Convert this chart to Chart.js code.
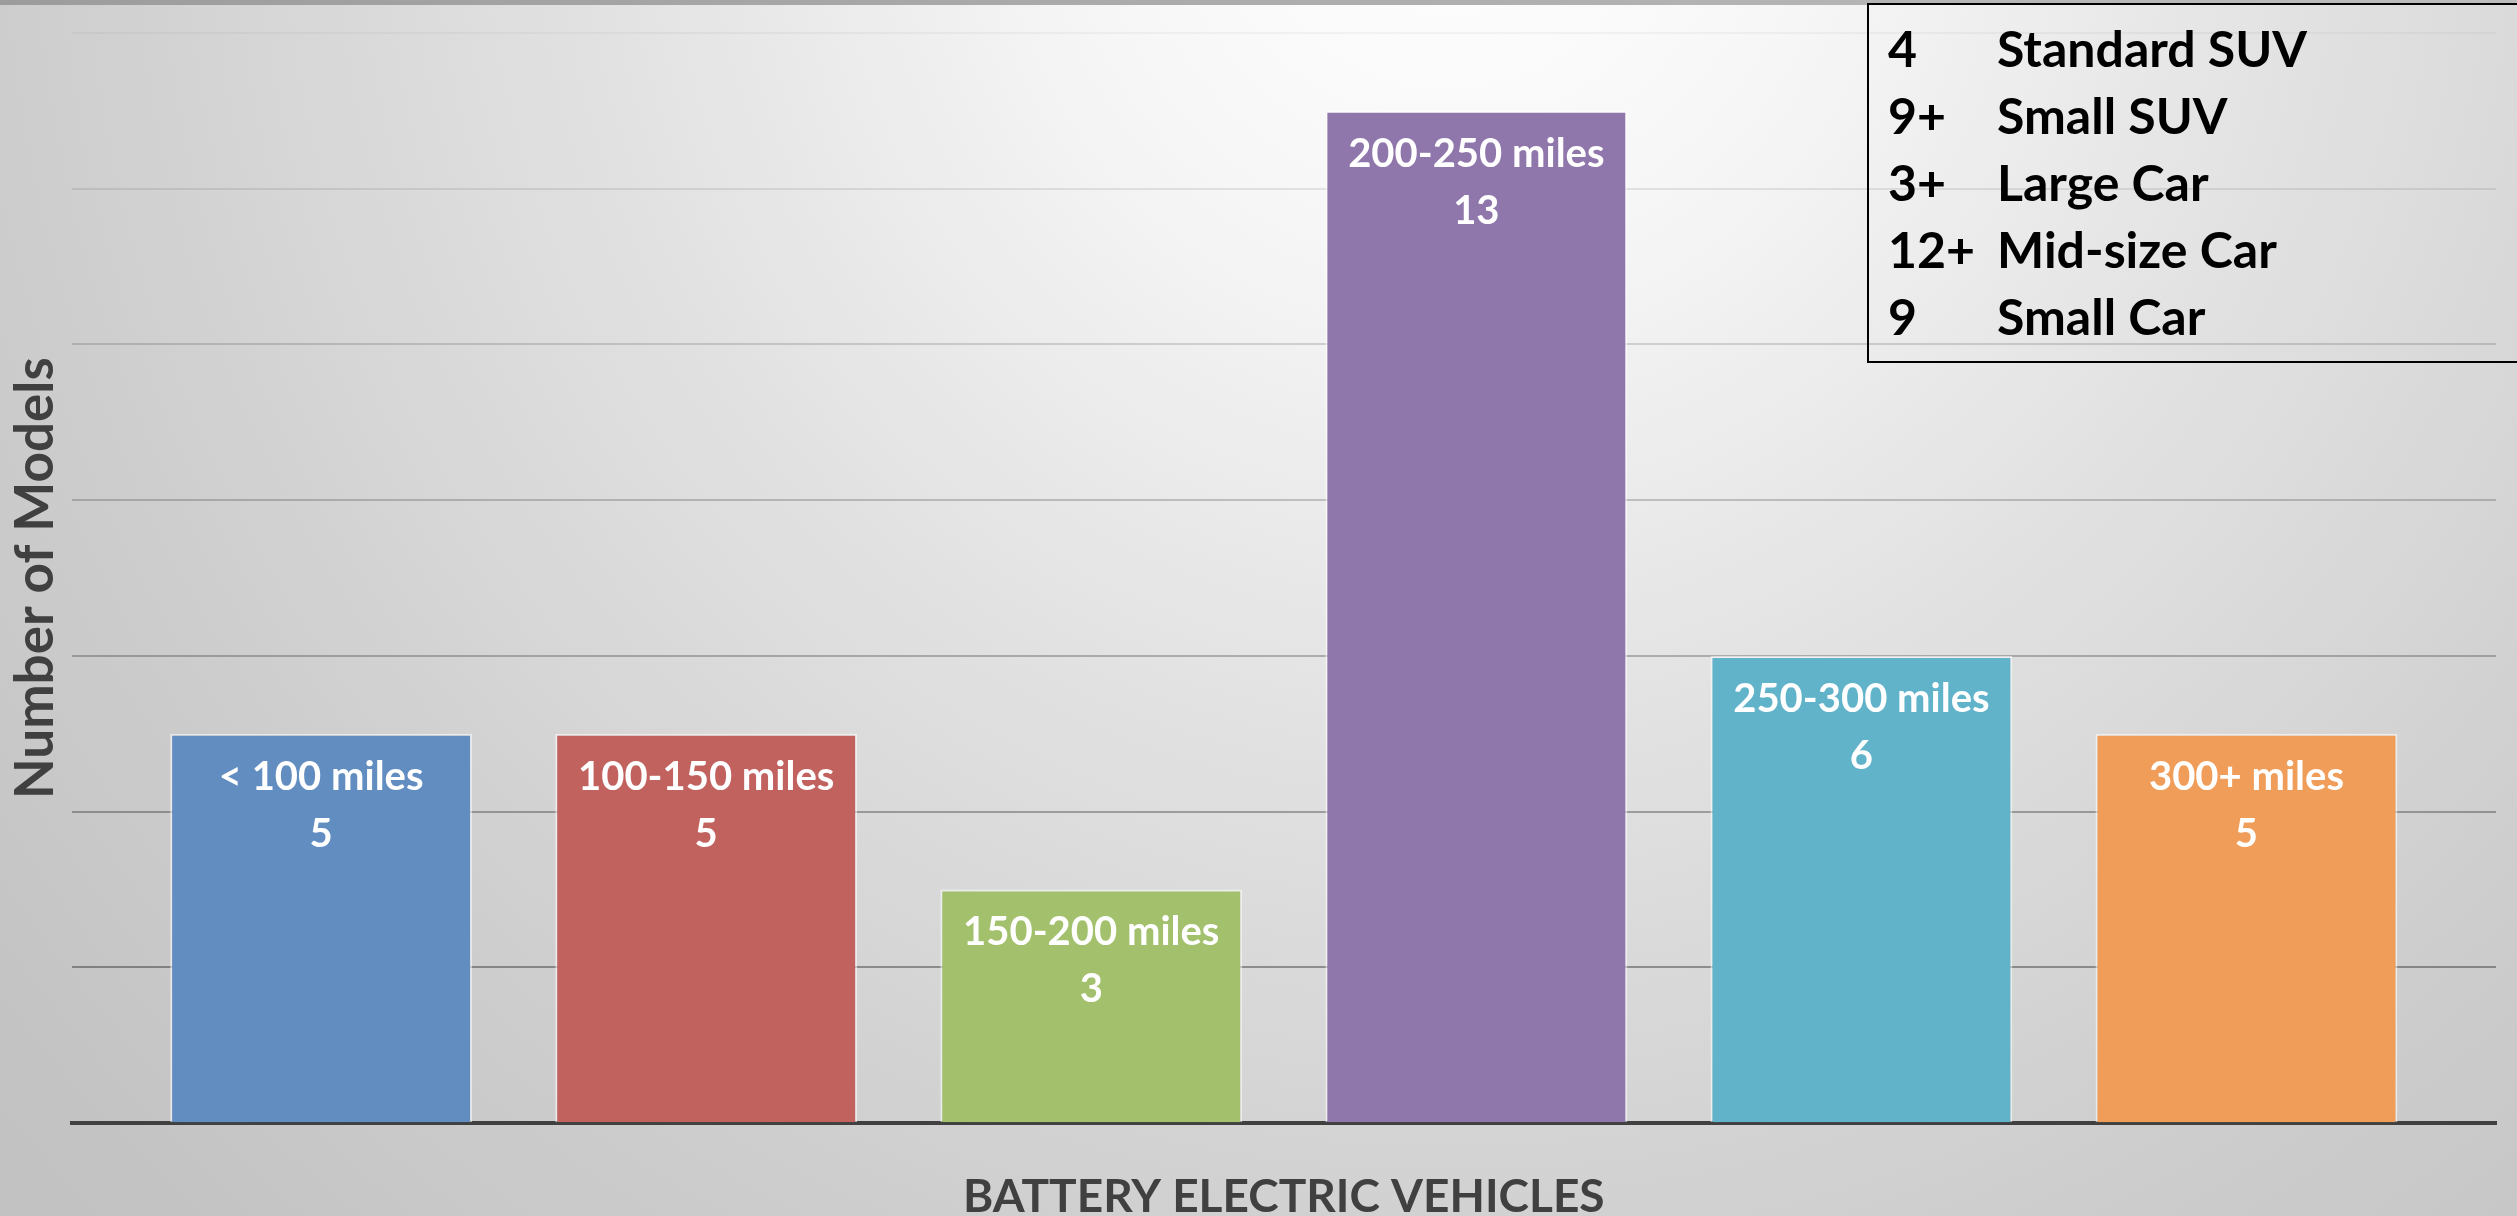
<!DOCTYPE html>
<html>
<head>
<meta charset="utf-8">
<script src="https://cdn.jsdelivr.net/npm/chart.js@4.4.1/dist/chart.umd.min.js"></script>
<style>
  html, body { margin: 0; padding: 0; background: #d8d8d8; }
  canvas { display: block; }
</style>
</head>
<body>
<canvas id="myChart" width="2517" height="1216"></canvas>
<script>
// range buckets and how many BEV models fall in each
var categorias = ['< 100 miles', '100-150 miles', '150-200 miles', '200-250 miles', '250-300 miles', '300+ miles'];
var valores = [5, 5, 3, 13, 6, 5];
var cores = ['#628dc0', '#c1625f', '#a3c16c', '#8f77ab', '#61b3ca', '#f19d5a'];

// text box in the top right corner
var contagens = ['4', '9+', '3+', '12+', '9'];
var tipos = ['Standard SUV', 'Small SUV', 'Large Car', 'Mid-size Car', 'Small Car'];

var fundoPlugin = {
    id: 'fundo',
    beforeDraw: function (chart) {
        var ctx = chart.ctx;
        var w = chart.width, h = chart.height;
        ctx.save();
        var g = ctx.createRadialGradient(1450, -120, 0, 1450, -120, 1900);
        g.addColorStop(0, '#ffffff');
        g.addColorStop(0.2, '#f6f6f6');
        g.addColorStop(0.45, '#e2e2e2');
        g.addColorStop(0.75, '#cecece');
        g.addColorStop(1, '#c2c2c2');
        ctx.fillStyle = g;
        ctx.fillRect(0, 0, w, h);
        // thin gray strip on top
        var t = ctx.createLinearGradient(0, 0, w, 0);
        t.addColorStop(0, '#9c9c9c');
        t.addColorStop(1, '#bdbdbd');
        ctx.fillStyle = t;
        ctx.fillRect(0, 0, w, 5);
        ctx.restore();
    }
};

var rotulosPlugin = {
    id: 'rotulos',
    afterDatasetsDraw: function (chart) {
        var ctx = chart.ctx;
        var meta = chart.getDatasetMeta(0);
        ctx.save();
        ctx.fillStyle = '#ffffff';
        ctx.font = 'bold 40px Lato, "Open Sans", sans-serif';
        ctx.textAlign = 'center';
        ctx.textBaseline = 'middle';
        meta.data.forEach(function (bar, i) {
            ctx.fillText(categorias[i], bar.x, bar.y + 43);
            ctx.fillText(String(valores[i]), bar.x, bar.y + 100);
        });
        ctx.restore();
    }
};

var caixaPlugin = {
    id: 'caixa',
    afterDraw: function (chart) {
        var ctx = chart.ctx;
        ctx.save();
        ctx.strokeStyle = '#000000';
        ctx.lineWidth = 2;
        ctx.strokeRect(1868, 4, 700, 358);
        ctx.fillStyle = '#000000';
        ctx.font = 'bold 50px Lato, "Open Sans", sans-serif';
        ctx.textAlign = 'left';
        ctx.textBaseline = 'alphabetic';
        for (var i = 0; i < tipos.length; i++) {
            var y = 67 + i * 67;
            ctx.fillText(contagens[i], 1888, y);
            ctx.fillText(tipos[i], 1997, y);
        }
        ctx.restore();
    }
};

const ctx = document.getElementById('myChart');

var chart = new Chart(ctx, {
    type: 'bar',
    data: {
        labels: categorias,
        datasets: [{
            label: 'Number of Models',
            data: valores.map(function (v, i) { return { x: i, y: v }; }),
            backgroundColor: cores,
            borderColor: 'rgba(255,255,255,0.55)',
            borderWidth: 2,
            borderSkipped: 'bottom',
            barPercentage: 0.784,
            categoryPercentage: 1
        }]
    },
    options: {
        responsive: false,
        animation: false,
        layout: { padding: { top: 33, right: 21, left: 0, bottom: 0 } },
        plugins: {
            legend: { display: false },
            tooltip: { enabled: false }
        },
        scales: {
            x: {
                type: 'linear',
                offset: false,
                min: -0.648,
                max: 5.648,
                ticks: { display: false, stepSize: 1, includeBounds: false },
                grid: { display: false, drawTicks: false, offset: false },
                border: { display: true, color: '#404040', width: 4 },
                title: {
                    display: true,
                    text: 'BATTERY ELECTRIC VEHICLES',
                    color: '#404040',
                    font: { family: 'Lato, "Open Sans", sans-serif', size: 46, weight: 'bold', lineHeight: 0.8 },
                    padding: { top: 56, bottom: 0 }
                }
            },
            y: {
                min: 0,
                max: 14,
                ticks: { display: false, stepSize: 2 },
                grid: {
                    drawTicks: false,
                    lineWidth: 2,
                    color: function (c) {
                        var v = c.tick ? c.tick.value : 0;
                        var a = 0.4 - v * 0.026;
                        return 'rgba(0,0,0,' + a.toFixed(3) + ')';
                    }
                },
                border: { display: false },
                title: {
                    display: true,
                    text: 'Number of Models',
                    color: '#404040',
                    font: { family: 'Lato, "Open Sans", sans-serif', size: 53, weight: 'bold', lineHeight: 1.2 },
                    padding: { top: 4, bottom: 4 }
                }
            }
        }
    },
    plugins: [fundoPlugin, rotulosPlugin, caixaPlugin]
});
</script>
</body>
</html>
